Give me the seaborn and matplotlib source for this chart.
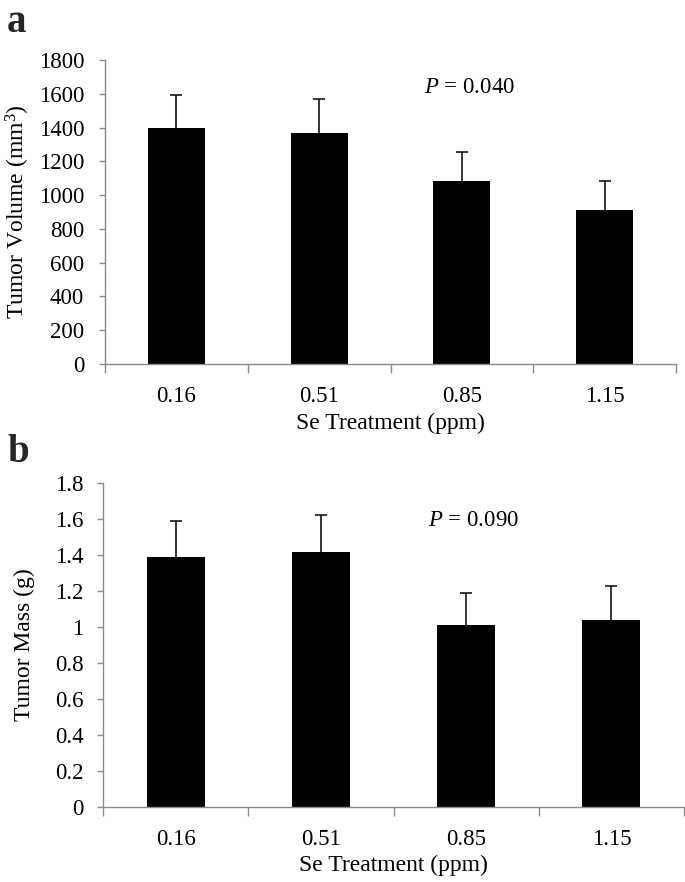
import matplotlib
matplotlib.use("Agg")
import matplotlib.pyplot as plt
from matplotlib.ticker import FixedLocator
import seaborn as sns
import pandas as pd
import numpy as np

# ── data ──────────────────────────────────────────────────────────────
se_doses = ["0.16", "0.51", "0.85", "1.15"]

volume_mean = [1398, 1365, 1082, 910]
volume_err = [192, 202, 173, 176]
volume_ticks = [0, 200, 400, 600, 800, 1000, 1200, 1400, 1600, 1800]
volume_ticklabels = ["0", "200", "400", "600", "800", "1000", "1200", "1400", "1600", "1800"]

mass_mean = [1.387, 1.415, 1.009, 1.041]
mass_err = [0.200, 0.209, 0.178, 0.185]
mass_ticks = [0, 0.2, 0.4, 0.6, 0.8, 1.0, 1.2, 1.4, 1.6, 1.8]
mass_ticklabels = ["0", "0.2", "0.4", "0.6", "0.8", "1", "1.2", "1.4", "1.6", "1.8"]

p_volume = "0.040"
p_mass = "0.090"

# ── style ─────────────────────────────────────────────────────────────
sns.set_theme(style="white")
plt.rcParams["font.family"] = ["Liberation Serif", "DejaVu Serif"]
plt.rcParams["mathtext.fontset"] = "custom"
plt.rcParams["mathtext.rm"] = "Liberation Serif"
plt.rcParams["mathtext.it"] = "Liberation Serif:italic"

SPINE = "#8a8a8a"
FS_TICK = 16.5
FS_LABEL = 17

fig = plt.figure(figsize=(6.85, 8.82), dpi=100)
ax_a = fig.add_axes([105 / 685, (882 - 364) / 882, 571 / 685, 304 / 882])
ax_b = fig.add_axes([103 / 685, (882 - 807) / 882, 581 / 685, 324 / 882])


def draw_panel(ax, means, errs, ticks, ticklabels, ylabel, ylab_x, xlab_y, ptext, pxy, ypad):
    df = pd.DataFrame({"dose": se_doses, "value": means})
    sns.barplot(data=df, x="dose", y="value", color="black", width=0.4,
                linewidth=0, errorbar=None, saturation=1, ax=ax, zorder=2)
    x = np.arange(len(means))
    # upper error only (Excel style)
    _, caps, _ = ax.errorbar(x, means, yerr=[np.zeros(len(errs)), errs], fmt="none",
                             ecolor="black", elinewidth=1.1, capsize=4,
                             capthick=1.1, zorder=1)
    caps[0].set_visible(False)  # lower caps sit on the bar top

    ax.set_xlim(-0.5, len(means) - 0.5)
    ax.set_ylim(ticks[0], ticks[-1])
    ax.set_yticks(ticks)
    ax.set_yticklabels(ticklabels)
    ax.xaxis.set_minor_locator(FixedLocator(np.arange(-0.5, len(means), 1.0)))

    for side in ["top", "right"]:
        ax.spines[side].set_visible(False)
    for side in ["left", "bottom"]:
        ax.spines[side].set_color(SPINE)
        ax.spines[side].set_linewidth(1)
        ax.spines[side].set_zorder(3)

    ax.tick_params(axis="y", which="major", left=True, length=4.5, width=1,
                   color=SPINE, pad=ypad, labelsize=FS_TICK, labelcolor="black")
    ax.tick_params(axis="x", which="major", bottom=True, length=0, pad=15.5,
                   labelsize=FS_TICK, labelcolor="black")
    ax.tick_params(axis="x", which="minor", bottom=True, length=6.5, width=1,
                   color=SPINE)

    ax.set_ylabel(ylabel, fontsize=FS_LABEL, color="black", va="center")
    ax.yaxis.set_label_coords(ylab_x, 0.5)
    ax.set_xlabel("Se Treatment (ppm)", fontsize=FS_LABEL, color="black", va="center")
    ax.xaxis.set_label_coords(0.5, xlab_y)

    ax.text(pxy[0], pxy[1], r"$P$ = " + ptext, fontsize=FS_TICK, ha="center",
            va="center", color="black")


draw_panel(ax_a, volume_mean, volume_err, volume_ticks, volume_ticklabels,
           "Tumor Volume (mm$^3$)", -0.152, -0.196, p_volume, (2.05, 1635), 10.5)
draw_panel(ax_b, mass_mean, mass_err, mass_ticks, mass_ticklabels,
           "Tumor Mass (g)", -0.136, -0.180, p_mass, (2.05, 1.59), 9.5)

fig.text(7 / 685, 1 - 32 / 882, "a", fontsize=28, fontweight="bold",
         va="baseline", ha="left")
fig.text(7 / 685, 1 - 462 / 882, "b", fontsize=28, fontweight="bold",
         va="baseline", ha="left")

fig.savefig("out.png", dpi=100)
